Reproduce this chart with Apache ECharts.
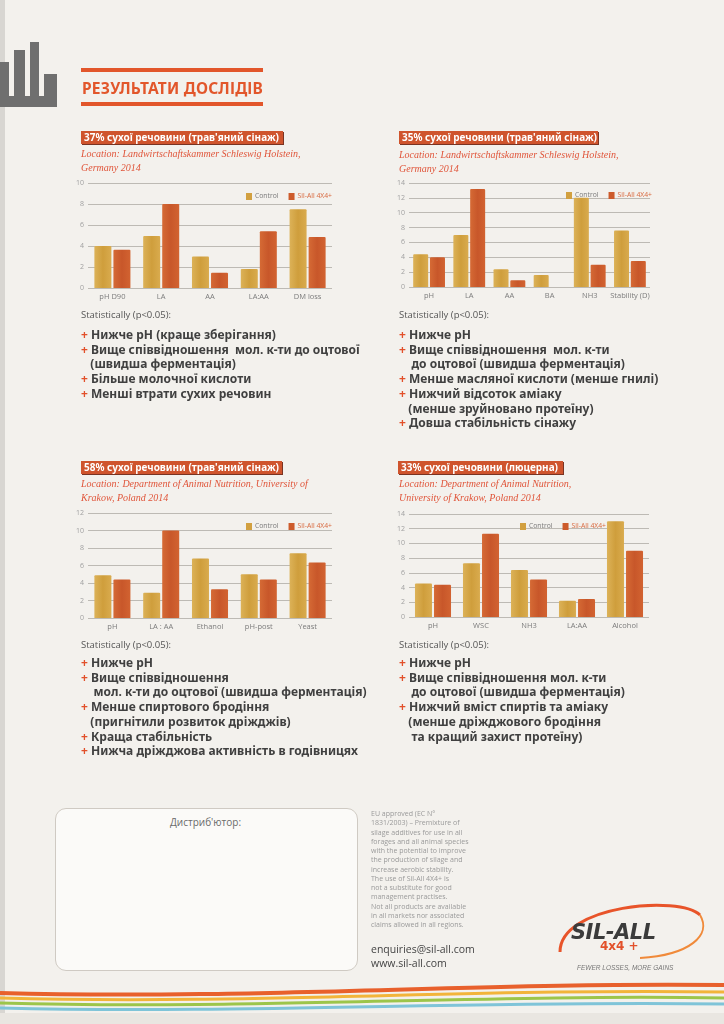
<!DOCTYPE html>
<html>
<head>
<meta charset="utf-8">
<script src="https://cdn.jsdelivr.net/npm/echarts@6/dist/echarts.min.js"></script>
<style>
html,body{margin:0;padding:0;}
body{width:724px;height:1024px;position:relative;overflow:hidden;background:#f3f1ed;font-family:"Noto Sans",sans-serif;}
#chart{position:absolute;left:0;top:0;width:724px;height:1024px;}
.abs{position:absolute;white-space:nowrap;}
.sx{display:inline-block;transform-origin:0 0;}
.hdr{left:82px;top:77px;font:bold 15.5px "Noto Sans";color:#e2562b;letter-spacing:0.2px;}
.hline{position:absolute;left:81px;width:182px;height:4px;background:#e2562b;}
.tbox{position:absolute;height:13px;background:#cf542d;color:#fff;font:bold 10.5px "Noto Sans";line-height:13px;padding-left:3px;box-shadow:1px 1px 0 #7a3322;white-space:nowrap;overflow:hidden;}
.tbox .sx{transform:scaleX(0.95);}
.loc{font:italic 10px "Liberation Serif";color:#e0553a;line-height:14px;}
.stat{font:9.5px "Open Sans";color:#555;}
.bul{font:bold 12px "Noto Sans";color:#404040;line-height:14.7px;}
.bul .p{color:#e2502a;}
.small{font:7px "Open Sans";color:#9a9a9a;line-height:9.25px;}
.mail{font:10.5px "Open Sans";color:#444;line-height:13.5px;}
</style>
</head>
<body>
<div id="chart"></div>

<div class="hline" style="top:68px"></div>
<div class="abs hdr">РЕЗУЛЬТАТИ ДОСЛІДІВ</div>
<div class="hline" style="top:102px"></div>

<div class="tbox" style="left:81px;top:131px;width:199px"><span class="sx">37% сухої речовини (трав'яний сінаж)</span></div>
<div class="tbox" style="left:399px;top:131px;width:196px"><span class="sx">35% сухої речовини (трав'яний сінаж)</span></div>
<div class="tbox" style="left:81px;top:461px;width:198px"><span class="sx">58% сухої речовини (трав'яний сінаж)</span></div>
<div class="tbox" style="left:398px;top:461px;width:162px"><span class="sx">33% сухої речовини (люцерна)</span></div>

<div class="abs loc" style="left:81px;top:147px">Location: Landwirtschaftskammer Schleswig Holstein,<br>Germany 2014</div>
<div class="abs loc" style="left:399px;top:148px">Location: Landwirtschaftskammer Schleswig Holstein,<br>Germany 2014</div>
<div class="abs loc" style="left:81px;top:477px">Location: Department of Animal Nutrition, University of<br>Krakow, Poland 2014</div>
<div class="abs loc" style="left:399px;top:477px">Location: Department of Animal Nutrition,<br>University of Krakow, Poland 2014</div>

<div class="abs stat" style="left:81px;top:308px">Statistically (p&lt;0.05):</div>
<div class="abs bul" style="left:81px;top:328px">
<span class="p">+</span> Нижче pH (краще зберігання)<br>
<span class="p">+</span> Вище співвідношення&nbsp; мол. к-ти до оцтової<br>
&nbsp;&nbsp;&nbsp;(швидша ферментація)<br>
<span class="p">+</span> Більше молочної кислоти<br>
<span class="p">+</span> Менші втрати сухих речовин
</div>

<div class="abs stat" style="left:399px;top:308px">Statistically (p&lt;0.05):</div>
<div class="abs bul" style="left:399px;top:328px">
<span class="p">+</span> Нижче pH<br>
<span class="p">+</span> Вище співвідношення&nbsp; мол. к-ти<br>
&nbsp;&nbsp;&nbsp;&nbsp;до оцтової (швидша ферментація)<br>
<span class="p">+</span> Менше масляної кислоти (менше гнилі)<br>
<span class="p">+</span> Нижчий відсоток аміаку<br>
&nbsp;&nbsp;&nbsp;(менше зруйновано протеїну)<br>
<span class="p">+</span> Довша стабільність сінажу
</div>

<div class="abs stat" style="left:81px;top:638px">Statistically (p&lt;0.05):</div>
<div class="abs bul" style="left:81px;top:656px">
<span class="p">+</span> Нижче pH<br>
<span class="p">+</span> Вище співвідношення<br>
&nbsp;&nbsp;&nbsp;&nbsp;мол. к-ти до оцтової (швидша ферментація)<br>
<span class="p">+</span> Менше спиртового бродіння<br>
&nbsp;&nbsp;&nbsp;(пригнітили розвиток дріжджів)<br>
<span class="p">+</span> Краща стабільність<br>
<span class="p">+</span> Нижча дріжджова активність в годівницях
</div>

<div class="abs stat" style="left:399px;top:638px">Statistically (p&lt;0.05):</div>
<div class="abs bul" style="left:399px;top:656px">
<span class="p">+</span> Нижче pH<br>
<span class="p">+</span> Вище співвідношення мол. к-ти<br>
&nbsp;&nbsp;&nbsp;&nbsp;до оцтової (швидша ферментація)<br>
<span class="p">+</span> Нижчий вміст спиртів та аміаку<br>
&nbsp;&nbsp;&nbsp;(менше дріжджового бродіння<br>
&nbsp;&nbsp;&nbsp;&nbsp;та кращий захист протеїну)
</div>

<div class="abs" style="left:55px;top:808px;width:301px;height:161px;border:1px solid #cfcac3;border-radius:11px;background:#fbfaf8;"></div>
<div class="abs" style="left:170px;top:815px;font:10px 'Open Sans';color:#6a6a6a;">Дистриб'ютор:</div>

<div class="abs small" style="left:371px;top:809px">EU approved (EC N°<br>1831/2003) – Premixture of<br>silage additives for use in all<br>forages and all animal species<br>with the potential to improve<br>the production of silage and<br>increase aerobic stability.<br>The use of Sil-All 4X4+ is<br>not a substitute for good<br>management practises.<br>Not all products are available<br>in all markets nor associated<br>claims allowed in all regions.</div>
<div class="abs mail" style="left:371px;top:943px">enquiries@sil-all.com<br>www.sil-all.com</div>

<div class="abs" style="left:571px;top:920px;font:italic 900 21px 'DejaVu Sans';color:#3b3b3b;letter-spacing:-0.5px;">SIL-ALL</div>
<div class="abs" style="left:600px;top:939px;font:bold 12px 'DejaVu Sans';color:#e2502a;">4x4 +</div>
<div class="abs" style="left:577px;top:964px;font:italic 6.5px 'Liberation Sans';color:#777;">FEWER LOSSES, MORE GAINS</div>

<script>
// ---- data ----
const legendNames = ['Control', 'Sil-All 4X4+'];
const yMax = [10, 14, 12, 14];

const cats1 = ['pH D90', 'LA', 'AA', 'LA:AA', 'DM loss'];
const control1 = [4.0, 4.95, 3.0, 1.8, 7.5];
const sil1 = [3.65, 8.0, 1.45, 5.4, 4.85];

const cats2 = ['pH', 'LA', 'AA', 'BA', 'NH3', 'Stability (D)'];
const control2 = [4.4, 7.0, 2.4, 1.6, 12.0, 7.6];
const sil2 = [4.0, 13.2, 0.9, null, 3.0, 3.5];

const cats3 = ['pH', 'LA : AA', 'Ethanol', 'pH-post', 'Yeast'];
const control3 = [4.9, 2.9, 6.8, 5.0, 7.4];
const sil3 = [4.4, 10.0, 3.3, 4.4, 6.35];

const cats4 = ['pH', 'WSC', 'NH3', 'LA:AA', 'Alcohol'];
const control4 = [4.55, 7.3, 6.4, 2.2, 13.0];
const sil4 = [4.4, 11.3, 5.1, 2.45, 9.0];

const allCats = [cats1, cats2, cats3, cats4];
const allControl = [control1, control2, control3, control4];
const allSil = [sil1, sil2, sil3, sil4];

// ---- layout ----
const grids = [
  {left: 88, right: 392, top: 183, bottom: 736},
  {left: 409, right: 74, top: 183, bottom: 737},
  {left: 88, right: 392, top: 513, bottom: 406},
  {left: 409, right: 75, top: 514, bottom: 407}
];
const barW = [17, 15, 17, 17];
const legendPos = [
  {left: 241, top: 188},
  {left: 561, top: 187},
  {left: 241, top: 518},
  {left: 515, top: 518}
];
const cControl = new echarts.graphic.LinearGradient(0, 0, 1, 0, [
  {offset: 0, color: '#dcb258'}, {offset: 0.5, color: '#cf9e3c'}, {offset: 1, color: '#d9ab4e'}]);
const cSil = new echarts.graphic.LinearGradient(0, 0, 1, 0, [
  {offset: 0, color: '#d56a35'}, {offset: 0.5, color: '#c8572a'}, {offset: 1, color: '#d26331'}]);

const chart = echarts.init(document.getElementById('chart'), null, {renderer: 'canvas'});
const option = {
  animation: false,
  grid: grids,
  xAxis: allCats.map((c, i) => ({
    type: 'category', gridIndex: i, data: c,
    axisLine: {show: false}, axisTick: {show: false},
    axisLabel: {interval: 0, color: '#7c7c7c', fontSize: 7.5, fontFamily: 'Open Sans', margin: 5}
  })),
  yAxis: yMax.map((m, i) => ({
    type: 'value', gridIndex: i, min: 0, max: m, interval: 2,
    axisLine: {show: false}, axisTick: {show: false},
    axisLabel: {color: '#a0a0a0', fontSize: 7, fontFamily: 'Open Sans', margin: 4},
    splitLine: {lineStyle: {color: '#bdbab4', width: 1}}
  })),
  legend: legendPos.map((p, i) => ({
    left: p.left, top: p.top, itemWidth: 6, itemHeight: 7, itemGap: 10,
    icon: 'rect',
    data: [
      {name: legendNames[0] + '#' + i, itemStyle: {color: '#d2a040'}, textStyle: {color: '#7a7a7a'}},
      {name: legendNames[1] + '#' + i, itemStyle: {color: '#cd5b2b'}, textStyle: {color: '#d86a40'}}
    ],
    formatter: n => n.split('#')[0],
    textStyle: {fontSize: 6.8, fontFamily: 'Open Sans', padding: [0, 0, 0, -2]}
  })),
  series: [],
  graphic: [
    {type: 'rect', shape: {x: 0, y: 0, width: 5, height: 1024}, style: {fill: '#d8d6d2'}},
    {type: 'rect', shape: {x: 0, y: 62, width: 9, height: 45}, style: {fill: '#6f6f6f'}},
    {type: 'rect', shape: {x: 14, y: 50, width: 11, height: 57}, style: {fill: '#6f6f6f'}},
    {type: 'rect', shape: {x: 30, y: 42, width: 9, height: 65}, style: {fill: '#6f6f6f'}},
    {type: 'rect', shape: {x: 44, y: 74, width: 13, height: 33}, style: {fill: '#6f6f6f'}},
    {type: 'rect', shape: {x: 0, y: 96, width: 57, height: 11}, style: {fill: '#6f6f6f'}},
    {type: 'bezierCurve', shape: {x1: 560, y1: 952, x2: 700, y2: 915, cpx1: 560, cpy1: 905, cpx2: 680, cpy2: 895},
      style: {stroke: '#e8542a', lineWidth: 3, fill: null}},
    {type: 'bezierCurve', shape: {x1: 700, y1: 915, x2: 640, y2: 958, cpx1: 712, cpy1: 935, cpx2: 690, cpy2: 955},
      style: {stroke: '#f08a3a', lineWidth: 2, fill: null}},
    {type: 'bezierCurve', shape: {x1: 0, y1: 993, x2: 724, y2: 985, cpx1: 250, cpy1: 1000, cpx2: 480, cpy2: 982},
      style: {stroke: '#e8602c', lineWidth: 4, fill: null}},
    {type: 'bezierCurve', shape: {x1: 0, y1: 998, x2: 724, y2: 992, cpx1: 250, cpy1: 1005, cpx2: 480, cpy2: 988},
      style: {stroke: '#f2b43a', lineWidth: 3, fill: null}},
    {type: 'bezierCurve', shape: {x1: 0, y1: 1003, x2: 724, y2: 998, cpx1: 250, cpy1: 1010, cpx2: 480, cpy2: 994},
      style: {stroke: '#9cc54a', lineWidth: 3, fill: null}},
    {type: 'bezierCurve', shape: {x1: 0, y1: 1008, x2: 724, y2: 1004, cpx1: 250, cpy1: 1014, cpx2: 480, cpy2: 1000},
      style: {stroke: '#7fc4d8', lineWidth: 3, fill: null}},
    {type: 'rect', shape: {x: 0, y: 1013, width: 724, height: 11}, style: {fill: '#e9e6e1'}}
  ]
};
for (let i = 0; i < 4; i++) {
  option.series.push({
    type: 'bar', name: legendNames[0] + '#' + i, xAxisIndex: i, yAxisIndex: i,
    data: allControl[i], barWidth: barW[i], barGap: '12%',
    itemStyle: {color: cControl, borderRadius: [1, 1, 0, 0]}
  });
  option.series.push({
    type: 'bar', name: legendNames[1] + '#' + i, xAxisIndex: i, yAxisIndex: i,
    data: allSil[i], barWidth: barW[i], barGap: '12%',
    itemStyle: {color: cSil, borderRadius: [1, 1, 0, 0]}
  });
}
chart.setOption(option);
</script>
</body>
</html>
